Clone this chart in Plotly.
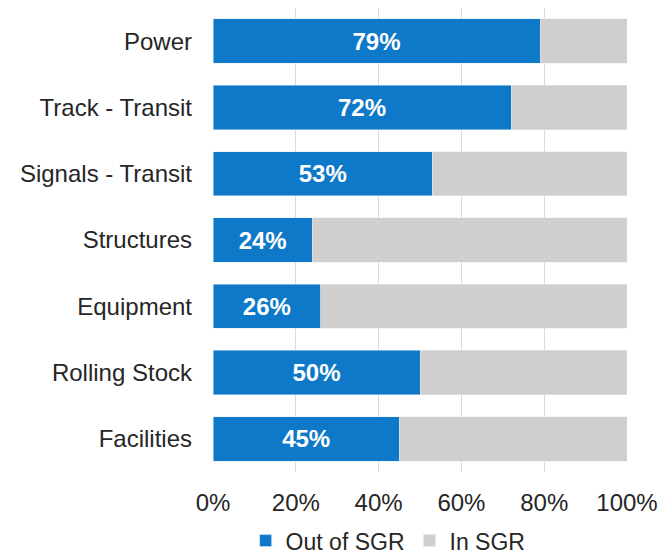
import plotly.graph_objects as go

categories = ["Power", "Track - Transit", "Signals - Transit", "Structures",
              "Equipment", "Rolling Stock", "Facilities"]
out_of_sgr = [79, 72, 53, 24, 26, 50, 45]
in_sgr = [100 - v for v in out_of_sgr]
tick_vals = [0, 20, 40, 60, 80, 100]
tick_text = ["0%", "20%", "40%", "60%", "80%", "100%"]

fig = go.Figure()
fig.add_trace(go.Bar(
    y=categories, x=out_of_sgr, name="Out of SGR", orientation="h",
    marker=dict(color="#0E78C9"),
    text=[f"{v}%" for v in out_of_sgr], textposition="inside",
    insidetextanchor="middle",
    textfont=dict(color="white", size=24, family="Liberation Sans, Arial",
                  weight="bold"),
))
fig.add_trace(go.Bar(
    y=categories, x=in_sgr, name="In SGR", orientation="h",
    marker=dict(color="#D0CECE"),
    hoverinfo="skip",
))

fig.update_xaxes(
    range=[0, 100], tickvals=tick_vals, ticktext=tick_text,
    showgrid=True, gridcolor="#D9D9D9", gridwidth=1,
    zeroline=False, showline=False, automargin=False,
    tickfont=dict(size=24, color="#262626"), ticks="", ticklen=0,
    ticklabelstandoff=14,
)
fig.update_yaxes(
    categoryorder="array", categoryarray=categories, autorange="reversed",
    tickfont=dict(size=24, color="#262626"), ticks="", ticklen=0,
    showline=False, automargin=False, ticklabelstandoff=20,
)
# page has an 8px body margin, so the figure is sized 8px smaller
fig.update_layout(
    barmode="stack",
    bargap=0.33,
    width=661, height=548,
    plot_bgcolor="white", paper_bgcolor="white",
    font=dict(family="Liberation Sans, Arial", color="#262626"),
    uniformtext=dict(minsize=10, mode="show"),
    legend=dict(
        orientation="h", x=0.423, xanchor="center",
        yref="container", y=0.028, yanchor="middle",
        font=dict(size=23, color="#262626"),
        bgcolor="rgba(0,0,0,0)",
        itemwidth=30, traceorder="normal",
    ),
    margin=dict(l=205, r=42, t=0, b=84),
)

fig.write_html("out.html")
